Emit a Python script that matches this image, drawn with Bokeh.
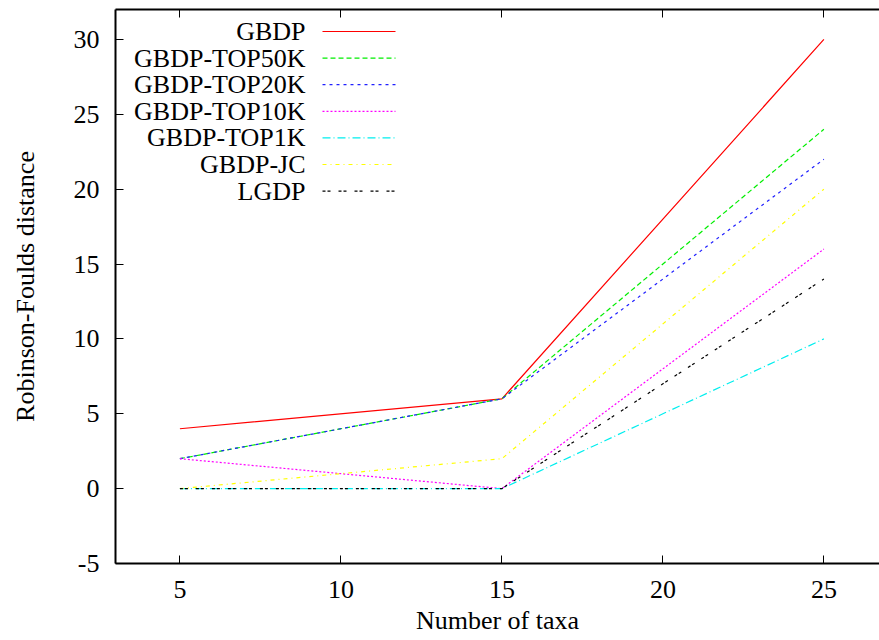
from bokeh.plotting import figure
from bokeh.models import Range1d, LinearAxis, FixedTicker, Label, Arrow
from bokeh.embed import file_html
from bokeh.resources import INLINE

# ---- data ----
taxa = [5, 15, 25]
gbdp = [4, 6, 30]
top50k = [2, 6, 24]
top20k = [2, 6, 22]
top10k = [2, 0, 16]
top1k = [0, 0, 10]
jc = [0, 2, 20]
lgdp = [0, 0, 14]

series_names = ["GBDP", "GBDP-TOP50K", "GBDP-TOP20K", "GBDP-TOP10K",
                "GBDP-TOP1K", "GBDP-JC", "LGDP"]
series_values = [gbdp, top50k, top20k, top10k, top1k, jc, lgdp]
colors = ["#ff0000", "#00ee00", "#2020ff", "#ff00ff", "#00eeee", "#ffff00", "#000000"]
dashes = ["solid", "5 3", "3 4", "2 2", "8 3 1 3", "4 4 1 4", "3 2 3 8"]

x_ticks = [5, 10, 15, 20, 25]
y_ticks = [-5, 0, 5, 10, 15, 20, 25, 30]
y_tick_labels = {t: str(t) for t in y_ticks}

x_title = "Number of taxa"
y_title = "Robinson-Foulds distance"

FONT = "Liberation Serif"
FS = "26px"

p = figure(width=879, height=640,
           x_range=Range1d(3, 26.727), y_range=Range1d(-5, 32),
           output_backend="svg", toolbar_location=None,
           min_border_left=115, min_border_right=0,
           min_border_top=9, min_border_bottom=77,
           x_axis_label=x_title, y_axis_label=y_title)
p.grid.visible = False
p.outline_line_color = None
p.background_fill_color = "white"
p.border_fill_color = "white"

top_axis = LinearAxis()
p.add_layout(top_axis, "above")

p.xaxis.ticker = FixedTicker(ticks=x_ticks)
p.yaxis.ticker = FixedTicker(ticks=y_ticks)
p.yaxis.major_label_overrides = y_tick_labels

for ax in p.xaxis + p.yaxis:
    ax.axis_line_width = 2
    ax.axis_line_color = "black"
    ax.major_tick_in = 8
    ax.major_tick_out = 0
    ax.major_tick_line_width = 1
    ax.major_tick_line_color = "black"
    ax.minor_tick_line_color = None
    ax.major_label_text_font = FONT
    ax.major_label_text_font_size = FS
    ax.major_label_text_color = "black"
    ax.major_label_standoff = 17
    ax.axis_label_text_font = FONT
    ax.axis_label_text_font_size = FS
    ax.axis_label_text_font_style = "normal"
    ax.axis_label_text_color = "black"

p.xaxis[0].axis_label_standoff = 2
p.yaxis[0].major_label_standoff = 16
p.yaxis[0].axis_label_standoff = 31
top_axis.major_label_text_font_size = "0px"
top_axis.major_label_text_color = None
top_axis.major_label_standoff = 0

for name, vals, col, dash in zip(series_names, series_values, colors, dashes):
    p.line(taxa, vals, line_color=col, line_width=1.2, line_dash=dash)

# legend (text right-aligned, sample to the right), screen units from frame
text_x = 190
line_x0, line_x1 = 207, 280
row0 = 532
row_step = 26.6
for i, (name, col, dash) in enumerate(zip(series_names, colors, dashes)):
    yy = row0 - i * row_step
    p.add_layout(Label(x=text_x, y=yy, x_units="screen", y_units="screen",
                       text=name, text_align="right", text_baseline="middle",
                       text_font=FONT, text_font_size=FS, text_color="black"))
    p.add_layout(Arrow(end=None, x_start=line_x0, y_start=yy, x_end=line_x1, y_end=yy,
                       start_units="screen", end_units="screen",
                       line_color=col, line_width=1.2, line_dash=dash))

open("out.html", "w").write(file_html(p, INLINE))
